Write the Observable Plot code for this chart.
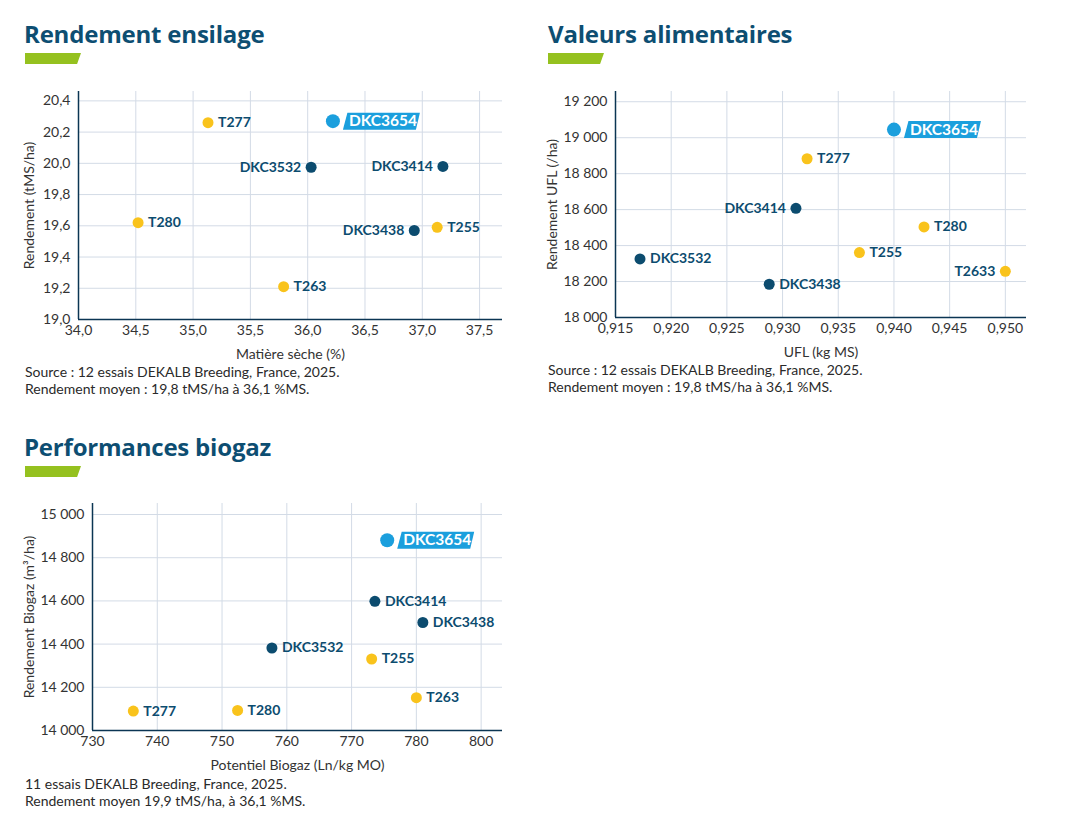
<!DOCTYPE html>
<html><head><meta charset="utf-8">
<script src="https://cdn.jsdelivr.net/npm/d3@7"></script>
<script src="https://cdn.jsdelivr.net/npm/@observablehq/plot@0.6"></script>
<style>
body{margin:0;background:#fff;width:1077px;height:821px;position:relative;font-family:Lato,"Open Sans",sans-serif;overflow:hidden}
.title{position:absolute;font-family:"Open Sans",Lato,sans-serif;font-weight:700;font-size:24px;color:#0d4e72;line-height:28px;margin:0;white-space:nowrap;letter-spacing:-0.2px}
.bar{position:absolute;width:56px;height:11px;background:#95c11f;clip-path:polygon(0 0,100% 0,93% 100%,0 100%)}
.chart{position:absolute}
.cap{position:absolute;font-size:14px;line-height:17px;color:#2a2a2a;white-space:nowrap}
</style></head><body>
<div class="title" style="left:24px;top:20px">Rendement ensilage</div>
<div class="bar" style="left:25px;top:53px"></div>
<div class="chart" id="c1" style="left:0;top:80px"></div>
<div class="cap" style="left:25px;top:363px">Source : 12 essais DEKALB Breeding, France, 2025.<br>Rendement moyen : 19,8 tMS/ha à 36,1 %MS.</div>

<div class="title" style="left:548px;top:20px">Valeurs alimentaires</div>
<div class="bar" style="left:548px;top:53px"></div>
<div class="chart" id="c2" style="left:530px;top:80px"></div>
<div class="cap" style="left:548px;top:361px">Source : 12 essais DEKALB Breeding, France, 2025.<br>Rendement moyen : 19,8 tMS/ha à 36,1 %MS.</div>

<div class="title" style="left:24px;top:433px">Performances biogaz</div>
<div class="bar" style="left:25px;top:466px"></div>
<div class="chart" id="c3" style="left:0;top:493px"></div>
<div class="cap" style="left:25px;top:775px">11 essais DEKALB Breeding, France, 2025.<br>Rendement moyen 19,9 tMS/ha, à 36,1 %MS.</div>

<script>
// ---------- Data ----------
// Rendement ensilage
const ensNames = ["DKC3654","T277","DKC3532","DKC3414","T280","DKC3438","T255","T263"];
const ensMS    = [36.22, 35.13, 36.03, 37.18, 34.52, 36.93, 37.13, 35.79];
const ensRdt   = [20.27, 20.26, 19.975, 19.98, 19.62, 19.57, 19.59, 19.21];
const ensXTicks = [34.0, 34.5, 35.0, 35.5, 36.0, 36.5, 37.0, 37.5];
const ensYTicks = [19.0, 19.2, 19.4, 19.6, 19.8, 20.0, 20.2, 20.4];

// Valeurs alimentaires
const uflNames = ["DKC3654","T277","DKC3414","T280","T255","DKC3532","T2633","DKC3438"];
const uflKg    = [0.9400, 0.9322, 0.9312, 0.9427, 0.9369, 0.9172, 0.9500, 0.9288];
const uflRdt   = [19045, 18883, 18607, 18504, 18361, 18326, 18257, 18185];
const uflXTicks = [0.915, 0.920, 0.925, 0.930, 0.935, 0.940, 0.945, 0.950];
const uflYTicks = [18000, 18200, 18400, 18600, 18800, 19000, 19200];

// Performances biogaz
const bioNames = ["DKC3654","DKC3414","DKC3438","DKC3532","T255","T263","T277","T280"];
const bioPot   = [775.5, 773.6, 781.0, 757.7, 773.1, 780.0, 736.3, 752.4];
const bioRdt   = [14881, 14598, 14500, 14382, 14331, 14152, 14090, 14093];
const bioXTicks = [730, 740, 750, 760, 770, 780, 790];
const bioXTickLabels = ["730", "740", "750", "760", "770", "780", "800"];
const bioYTicks = [14000, 14200, 14400, 14600, 14800, 15000];

// ---------- Styles ----------
const NAVY = "#0c4c6f", AXIS = "#0b3553", LIGHT = "#1b9fdd", YELLOW = "#f9c31c", GRID = "#d3dbe6";
const HERO = "DKC3654";
const fr = d3.formatLocale({decimal: ",", thousands: "\u202f", grouping: [3], currency: ["", " €"]});
const colorOf = n => n === HERO ? LIGHT : n.startsWith("DKC") ? NAVY : YELLOW;

// parallelogram badge symbol drawn to the right of the point
const badge = {draw(ctx) {
  ctx.moveTo(10, 8.5); ctx.lineTo(14.5, -8.5); ctx.lineTo(87, -8.5); ctx.lineTo(83, 8.5); ctx.closePath();
}};

function chart(el, o) {
  const rows = o.names.map((n, i) => ({name: n, x: o.xs[i], y: o.ys[i]}));
  const others = rows.filter(d => d.name !== HERO);
  const hero = rows.filter(d => d.name === HERO);
  const left = others.filter(d => o.leftLabels.includes(d.name));
  const right = others.filter(d => !o.leftLabels.includes(d.name));
  const p = Plot.plot({
    width: 520, height: o.height,
    marginLeft: o.ml, marginRight: o.mr, marginTop: o.mt, marginBottom: 43,
    style: {fontFamily: "Lato, 'Open Sans', sans-serif", fontSize: "13px", color: "#333", background: "transparent"},
    x: {domain: o.xDomain},
    y: {domain: o.yDomain},
    marks: [
      Plot.gridX(o.xTicks, {stroke: GRID, strokeOpacity: 1}),
      Plot.gridY(o.yTicks, {stroke: GRID, strokeOpacity: 1, x1: o.xDomain[0] , x2: o.xDomain[1]}),
      Plot.axisX({ticks: o.xTicks, tickFormat: o.xFmt, tickSize: 0, tickPadding: 6, fontSize: 14,
        label: o.xLabel, labelAnchor: "center", labelOffset: 39.5, labelArrow: "none"}),
      Plot.axisY({ticks: o.yTicks, tickFormat: o.yFmt, tickSize: 0, tickPadding: 8, fontSize: 14,
        label: o.yLabel, labelAnchor: "center", labelOffset: o.lo, labelArrow: "none"}),
      Plot.ruleX([o.xDomain[0]], {stroke: AXIS, strokeWidth: 1.5}),
      Plot.ruleY([o.yDomain[0]], {stroke: AXIS, strokeWidth: 1.5}),
      Plot.dot(others, {x: "x", y: "y", r: 5.5, fill: d => colorOf(d.name), stroke: "none"}),
      Plot.text(right, {x: "x", y: "y", text: "name", dx: 10, textAnchor: "start", fill: NAVY, fontWeight: "bold", fontSize: 14}),
      Plot.text(left, {x: "x", y: "y", text: "name", dx: -10, textAnchor: "end", fill: NAVY, fontWeight: "bold", fontSize: 14}),
      Plot.dot(hero, {x: "x", y: "y", symbol: badge, r: 5, fill: LIGHT, stroke: "none"}),
      Plot.dot(hero, {x: "x", y: "y", r: 7, fill: LIGHT, stroke: "none"}),
      Plot.text(hero, {x: "x", y: "y", text: "name", dx: 16, textAnchor: "start", fill: "white", fontWeight: "bold", fontSize: 15.5})
    ]
  });
  document.getElementById(el).append(p);
}

const f1 = v => fr.format(".1f")(v);
chart("c1", {names: ensNames, xs: ensMS, ys: ensRdt, xTicks: ensXTicks, yTicks: ensYTicks,
  xFmt: f1, yFmt: f1, xDomain: [34, 37.7], yDomain: [19.0, 20.46],
  xLabel: "Matière sèche (%)", yLabel: "Rendement (tMS/ha)",
  height: 282, ml: 78, mr: 18, mt: 11, lo: 54, leftLabels: ["DKC3532", "DKC3414", "DKC3438"]});

chart("c2", {names: uflNames, xs: uflKg, ys: uflRdt, xTicks: uflXTicks, yTicks: uflYTicks,
  xFmt: v => fr.format(".3f")(v), yFmt: v => fr.format(",.0f")(v), xDomain: [0.915, 0.9519], yDomain: [18000, 19257],
  xLabel: "UFL (kg MS)", yLabel: "Rendement UFL (/ha)",
  height: 280, ml: 85, mr: 24, mt: 11, lo: 68, leftLabels: ["DKC3414", "T2633"]});

chart("c3", {names: bioNames, xs: bioPot, ys: bioRdt, xTicks: bioXTicks, yTicks: bioYTicks,
  xFmt: (v, i) => bioXTickLabels[i], yFmt: v => fr.format(",.0f")(v), xDomain: [730, 793.3], yDomain: [14000, 15051],
  xLabel: "Potentiel Biogaz (Ln/kg MO)", yLabel: "Rendement Biogaz (m³/ha)",
  height: 280, ml: 92, mr: 18, mt: 10, lo: 68, leftLabels: []});
</script>
</body></html>
